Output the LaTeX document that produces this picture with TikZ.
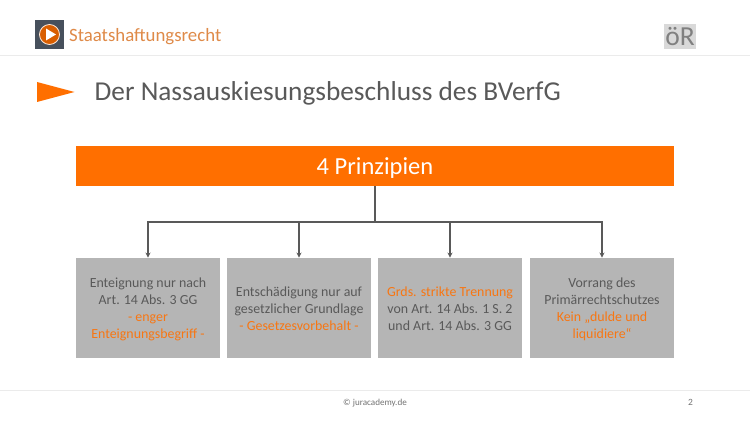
\documentclass[tikz,border=0pt]{standalone}
\usepackage{xcolor}
\usepackage{fontspec}
\setmainfont{Carlito}
\usetikzlibrary{arrows.meta}
\definecolor{jorange}{HTML}{FF6F00}
\definecolor{jkurs}{HTML}{DF8A48}
\definecolor{jtext}{HTML}{595959}
\definecolor{jbox}{HTML}{B5B5B5}
\definecolor{jslate}{HTML}{47505C}
\definecolor{jrule}{HTML}{EBEBEB}
\newcommand{\hl}[1]{\textcolor{jorange!90!jbox}{#1}}

\begin{document}
\begin{tikzpicture}[x=1pt,y=-1pt]
    \tikzset{prinzip/.style={fill=jbox,text=jtext,minimum width=144.5pt,minimum height=100.5pt,inner sep=0pt,align=center,font=\fontsize{13.9}{17}\selectfont},
      pfeil/.style={draw=jtext,line width=1.4pt,-{Stealth[length=5pt,width=5pt]}},
      stamm/.style={draw=jtext,line width=1.4pt},
      trenner/.style={draw=jrule,line width=1.3pt}}
\useasboundingbox (0,0) rectangle (750,422);
\fill[white] (0,0) rectangle (750,422);

 \coordinate (kl) at (0,55.5); \coordinate (kr) at (750,55.5);
 \coordinate (fl) at (0,390.5); \coordinate (fr) at (750,390.5);
 \draw[trenner] (kl) -- (kr);
 \draw[trenner] (fl) -- (fr);

\node[fill=jslate,minimum size=29pt,inner sep=0pt] (icon) at (49.5,34.5) {};
\node[circle,fill=jorange!85!black,draw=white!85!jorange,line width=0.8pt,minimum size=20pt,inner sep=0pt] (play) at (icon.center) {};
\fill[white] (46,28.5) -- (56,34.5) -- (46,40.5) -- cycle;
\node[anchor=west,inner sep=0pt,text=jkurs,font=\fontsize{18.8}{20}\selectfont] (kurs) at (69,36.5) {Staatshaftungsrecht};
\node[fill=black!15,text=black!50,minimum width=32pt,minimum height=25pt,inner sep=0pt,font=\fontsize{27.5}{28}\selectfont] (gebiet) at (680,36.5) {öR};

\fill[jorange] (37,82) -- (74.5,92) -- (37,102) -- cycle;
\node[anchor=west,inner sep=0pt,text=jtext,font=\fontsize{27.3}{30}\selectfont] (titel) at (94.5,93.5) {Der Nassauskiesungsbeschluss des BVerfG};

\node[fill=jorange,text=white,minimum width=598pt,minimum height=40pt,inner sep=0pt,text height=19pt,text depth=5pt,font=\fontsize{24.5}{28}\selectfont] (kopf) at (375,166) {\raisebox{-2pt}{4 Prinzipien}};
\coordinate (abzweig) at (375,222);

\node[prinzip] (p1) at (148,308) {\strut Enteignung nur nach\\Art. 14 Abs. 3 GG\\\hl{- enger}\\\hl{Enteignungsbegriff -}};
\node[prinzip] (p2) at (299,308) {\strut Entschädigung nur auf\\gesetzlicher Grundlage\\\hl{- Gesetzesvorbehalt -}};
\node[prinzip] (p3) at (450,308) {\strut\hl{Grds. strikte Trennung}\\von Art. 14 Abs. 1 S. 2\\und Art. 14 Abs. 3 GG};
\node[prinzip] (p4) at (602,308) {\strut Vorrang des\\Primärrechtschutzes\\\hl{Kein „dulde und}\\\hl{liquidiere“}};

 \draw[stamm] (kopf.south) -- (abzweig);
 \draw[pfeil] (abzweig) -| (p1.north);
 \draw[pfeil] (abzweig) -| (p2.north);
 \draw[pfeil] (abzweig) -| (p3.north);
 \draw[pfeil] (abzweig) -| (p4.north);

\node[text=black!55,inner sep=0pt,font=\fontsize{9.1}{11}\selectfont] (copy) at (375,403) {© juracademy.de};
\node[text=black!55,inner sep=0pt,font=\fontsize{9.5}{11}\selectfont] (seite) at (690.5,402.5) {2};
\end{tikzpicture}
\end{document}
